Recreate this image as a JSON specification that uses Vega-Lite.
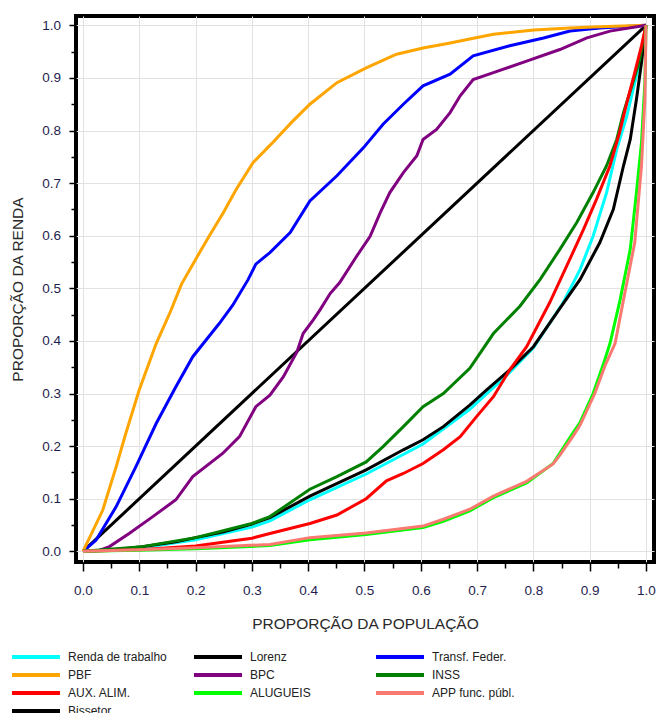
{
  "$schema": "https://vega.github.io/schema/vega-lite/v6.json",
  "width": 578,
  "height": 546,
  "autosize": {"type": "none"},
  "padding": {"left": 76, "top": 16, "right": 3, "bottom": 151},
  "background": "white",
  "datasets": {
    "pts": [
      {"s":"Bissetor","x":0,"y":0},{"s":"Bissetor","x":1,"y":1},

      {"s":"Renda de trabalho","x":0,"y":0},{"s":"Renda de trabalho","x":0.1,"y":0.006},{"s":"Renda de trabalho","x":0.2,"y":0.022},{"s":"Renda de trabalho","x":0.3,"y":0.046},{"s":"Renda de trabalho","x":0.332,"y":0.058},{"s":"Renda de trabalho","x":0.403,"y":0.098},{"s":"Renda de trabalho","x":0.503,"y":0.147},{"s":"Renda de trabalho","x":0.604,"y":0.204},{"s":"Renda de trabalho","x":0.687,"y":0.27},{"s":"Renda de trabalho","x":0.758,"y":0.34},{"s":"Renda de trabalho","x":0.8,"y":0.387},{"s":"Renda de trabalho","x":0.853,"y":0.473},{"s":"Renda de trabalho","x":0.883,"y":0.536},{"s":"Renda de trabalho","x":0.906,"y":0.599},{"s":"Renda de trabalho","x":0.93,"y":0.682},{"s":"Renda de trabalho","x":0.948,"y":0.764},{"s":"Renda de trabalho","x":0.966,"y":0.828},{"s":"Renda de trabalho","x":0.98,"y":0.891},{"s":"Renda de trabalho","x":0.992,"y":0.942},{"s":"Renda de trabalho","x":1,"y":1},

      {"s":"Lorenz","x":0,"y":0},{"s":"Lorenz","x":0.05,"y":0.002},{"s":"Lorenz","x":0.1,"y":0.008},{"s":"Lorenz","x":0.165,"y":0.018},{"s":"Lorenz","x":0.2,"y":0.026},{"s":"Lorenz","x":0.25,"y":0.037},{"s":"Lorenz","x":0.3,"y":0.052},{"s":"Lorenz","x":0.332,"y":0.064},{"s":"Lorenz","x":0.403,"y":0.105},{"s":"Lorenz","x":0.503,"y":0.155},{"s":"Lorenz","x":0.569,"y":0.193},{"s":"Lorenz","x":0.604,"y":0.212},{"s":"Lorenz","x":0.64,"y":0.237},{"s":"Lorenz","x":0.687,"y":0.278},{"s":"Lorenz","x":0.717,"y":0.307},{"s":"Lorenz","x":0.758,"y":0.345},{"s":"Lorenz","x":0.8,"y":0.389},{"s":"Lorenz","x":0.847,"y":0.462},{"s":"Lorenz","x":0.883,"y":0.517},{"s":"Lorenz","x":0.918,"y":0.587},{"s":"Lorenz","x":0.942,"y":0.65},{"s":"Lorenz","x":0.96,"y":0.733},{"s":"Lorenz","x":0.972,"y":0.783},{"s":"Lorenz","x":0.983,"y":0.859},{"s":"Lorenz","x":0.992,"y":0.929},{"s":"Lorenz","x":1,"y":1},

      {"s":"Transf. Feder.","x":0,"y":0},{"s":"Transf. Feder.","x":0.023,"y":0.021},{"s":"Transf. Feder.","x":0.059,"y":0.085},{"s":"Transf. Feder.","x":0.094,"y":0.161},{"s":"Transf. Feder.","x":0.13,"y":0.243},{"s":"Transf. Feder.","x":0.165,"y":0.313},{"s":"Transf. Feder.","x":0.195,"y":0.37},{"s":"Transf. Feder.","x":0.242,"y":0.433},{"s":"Transf. Feder.","x":0.266,"y":0.468},{"s":"Transf. Feder.","x":0.293,"y":0.516},{"s":"Transf. Feder.","x":0.307,"y":0.546},{"s":"Transf. Feder.","x":0.332,"y":0.568},{"s":"Transf. Feder.","x":0.368,"y":0.606},{"s":"Transf. Feder.","x":0.403,"y":0.666},{"s":"Transf. Feder.","x":0.451,"y":0.714},{"s":"Transf. Feder.","x":0.498,"y":0.767},{"s":"Transf. Feder.","x":0.533,"y":0.812},{"s":"Transf. Feder.","x":0.569,"y":0.85},{"s":"Transf. Feder.","x":0.604,"y":0.885},{"s":"Transf. Feder.","x":0.652,"y":0.907},{"s":"Transf. Feder.","x":0.693,"y":0.942},{"s":"Transf. Feder.","x":0.758,"y":0.961},{"s":"Transf. Feder.","x":0.818,"y":0.976},{"s":"Transf. Feder.","x":0.865,"y":0.989},{"s":"Transf. Feder.","x":0.918,"y":0.995},{"s":"Transf. Feder.","x":1,"y":1},

      {"s":"PBF","x":0,"y":0},{"s":"PBF","x":0.035,"y":0.078},{"s":"PBF","x":0.059,"y":0.161},{"s":"PBF","x":0.076,"y":0.224},{"s":"PBF","x":0.1,"y":0.307},{"s":"PBF","x":0.13,"y":0.395},{"s":"PBF","x":0.155,"y":0.455},{"s":"PBF","x":0.175,"y":0.508},{"s":"PBF","x":0.2,"y":0.555},{"s":"PBF","x":0.224,"y":0.599},{"s":"PBF","x":0.25,"y":0.645},{"s":"PBF","x":0.272,"y":0.688},{"s":"PBF","x":0.302,"y":0.739},{"s":"PBF","x":0.335,"y":0.775},{"s":"PBF","x":0.37,"y":0.815},{"s":"PBF","x":0.403,"y":0.85},{"s":"PBF","x":0.451,"y":0.891},{"s":"PBF","x":0.503,"y":0.919},{"s":"PBF","x":0.557,"y":0.945},{"s":"PBF","x":0.604,"y":0.957},{"s":"PBF","x":0.65,"y":0.966},{"s":"PBF","x":0.687,"y":0.974},{"s":"PBF","x":0.729,"y":0.983},{"s":"PBF","x":0.801,"y":0.991},{"s":"PBF","x":0.865,"y":0.995},{"s":"PBF","x":0.906,"y":0.997},{"s":"PBF","x":1,"y":1},

      {"s":"BPC","x":0,"y":0},{"s":"BPC","x":0.03,"y":0.002},{"s":"BPC","x":0.047,"y":0.009},{"s":"BPC","x":0.082,"y":0.034},{"s":"BPC","x":0.124,"y":0.066},{"s":"BPC","x":0.165,"y":0.098},{"s":"BPC","x":0.195,"y":0.142},{"s":"BPC","x":0.248,"y":0.186},{"s":"BPC","x":0.278,"y":0.218},{"s":"BPC","x":0.307,"y":0.275},{"s":"BPC","x":0.332,"y":0.297},{"s":"BPC","x":0.356,"y":0.332},{"s":"BPC","x":0.38,"y":0.379},{"s":"BPC","x":0.391,"y":0.414},{"s":"BPC","x":0.409,"y":0.44},{"s":"BPC","x":0.421,"y":0.459},{"s":"BPC","x":0.439,"y":0.49},{"s":"BPC","x":0.456,"y":0.511},{"s":"BPC","x":0.486,"y":0.561},{"s":"BPC","x":0.51,"y":0.599},{"s":"BPC","x":0.528,"y":0.644},{"s":"BPC","x":0.545,"y":0.682},{"s":"BPC","x":0.569,"y":0.72},{"s":"BPC","x":0.593,"y":0.752},{"s":"BPC","x":0.604,"y":0.783},{"s":"BPC","x":0.628,"y":0.802},{"s":"BPC","x":0.652,"y":0.834},{"s":"BPC","x":0.67,"y":0.866},{"s":"BPC","x":0.693,"y":0.897},{"s":"BPC","x":0.729,"y":0.91},{"s":"BPC","x":0.788,"y":0.932},{"s":"BPC","x":0.847,"y":0.954},{"s":"BPC","x":0.895,"y":0.976},{"s":"BPC","x":0.936,"y":0.989},{"s":"BPC","x":1,"y":1},

      {"s":"INSS","x":0,"y":0},{"s":"INSS","x":0.1,"y":0.008},{"s":"INSS","x":0.2,"y":0.026},{"s":"INSS","x":0.3,"y":0.053},{"s":"INSS","x":0.332,"y":0.066},{"s":"INSS","x":0.403,"y":0.118},{"s":"INSS","x":0.451,"y":0.142},{"s":"INSS","x":0.503,"y":0.17},{"s":"INSS","x":0.533,"y":0.199},{"s":"INSS","x":0.569,"y":0.237},{"s":"INSS","x":0.604,"y":0.275},{"s":"INSS","x":0.64,"y":0.3},{"s":"INSS","x":0.687,"y":0.348},{"s":"INSS","x":0.729,"y":0.414},{"s":"INSS","x":0.776,"y":0.466},{"s":"INSS","x":0.812,"y":0.517},{"s":"INSS","x":0.847,"y":0.574},{"s":"INSS","x":0.877,"y":0.625},{"s":"INSS","x":0.906,"y":0.682},{"s":"INSS","x":0.93,"y":0.733},{"s":"INSS","x":0.948,"y":0.783},{"s":"INSS","x":0.96,"y":0.834},{"s":"INSS","x":0.975,"y":0.885},{"s":"INSS","x":0.989,"y":0.935},{"s":"INSS","x":1,"y":1},

      {"s":"AUX. ALIM.","x":0,"y":0},{"s":"AUX. ALIM.","x":0.1,"y":0.003},{"s":"AUX. ALIM.","x":0.2,"y":0.01},{"s":"AUX. ALIM.","x":0.3,"y":0.025},{"s":"AUX. ALIM.","x":0.332,"y":0.034},{"s":"AUX. ALIM.","x":0.403,"y":0.053},{"s":"AUX. ALIM.","x":0.451,"y":0.069},{"s":"AUX. ALIM.","x":0.503,"y":0.1},{"s":"AUX. ALIM.","x":0.539,"y":0.134},{"s":"AUX. ALIM.","x":0.569,"y":0.148},{"s":"AUX. ALIM.","x":0.604,"y":0.167},{"s":"AUX. ALIM.","x":0.64,"y":0.193},{"s":"AUX. ALIM.","x":0.67,"y":0.218},{"s":"AUX. ALIM.","x":0.699,"y":0.256},{"s":"AUX. ALIM.","x":0.729,"y":0.294},{"s":"AUX. ALIM.","x":0.758,"y":0.345},{"s":"AUX. ALIM.","x":0.788,"y":0.389},{"s":"AUX. ALIM.","x":0.829,"y":0.473},{"s":"AUX. ALIM.","x":0.859,"y":0.542},{"s":"AUX. ALIM.","x":0.889,"y":0.612},{"s":"AUX. ALIM.","x":0.912,"y":0.669},{"s":"AUX. ALIM.","x":0.936,"y":0.733},{"s":"AUX. ALIM.","x":0.953,"y":0.796},{"s":"AUX. ALIM.","x":0.966,"y":0.853},{"s":"AUX. ALIM.","x":0.98,"y":0.91},{"s":"AUX. ALIM.","x":0.992,"y":0.961},{"s":"AUX. ALIM.","x":1,"y":1},

      {"s":"ALUGUEIS","x":0,"y":0},{"s":"ALUGUEIS","x":0.1,"y":0.002},{"s":"ALUGUEIS","x":0.2,"y":0.005},{"s":"ALUGUEIS","x":0.332,"y":0.011},{"s":"ALUGUEIS","x":0.403,"y":0.022},{"s":"ALUGUEIS","x":0.503,"y":0.032},{"s":"ALUGUEIS","x":0.604,"y":0.045},{"s":"ALUGUEIS","x":0.64,"y":0.057},{"s":"ALUGUEIS","x":0.687,"y":0.077},{"s":"ALUGUEIS","x":0.729,"y":0.102},{"s":"ALUGUEIS","x":0.788,"y":0.13},{"s":"ALUGUEIS","x":0.835,"y":0.167},{"s":"ALUGUEIS","x":0.847,"y":0.187},{"s":"ALUGUEIS","x":0.871,"y":0.226},{"s":"ALUGUEIS","x":0.883,"y":0.245},{"s":"ALUGUEIS","x":0.906,"y":0.3},{"s":"ALUGUEIS","x":0.924,"y":0.355},{"s":"ALUGUEIS","x":0.936,"y":0.395},{"s":"ALUGUEIS","x":0.954,"y":0.478},{"s":"ALUGUEIS","x":0.972,"y":0.574},{"s":"ALUGUEIS","x":0.983,"y":0.682},{"s":"ALUGUEIS","x":0.992,"y":0.777},{"s":"ALUGUEIS","x":0.998,"y":0.891},{"s":"ALUGUEIS","x":1,"y":1},

      {"s":"APP func. públ.","x":0,"y":0},{"s":"APP func. públ.","x":0.1,"y":0.003},{"s":"APP func. públ.","x":0.2,"y":0.007},{"s":"APP func. públ.","x":0.332,"y":0.013},{"s":"APP func. públ.","x":0.403,"y":0.026},{"s":"APP func. públ.","x":0.503,"y":0.035},{"s":"APP func. públ.","x":0.604,"y":0.048},{"s":"APP func. públ.","x":0.64,"y":0.061},{"s":"APP func. públ.","x":0.687,"y":0.08},{"s":"APP func. públ.","x":0.729,"y":0.105},{"s":"APP func. públ.","x":0.788,"y":0.133},{"s":"APP func. públ.","x":0.835,"y":0.166},{"s":"APP func. públ.","x":0.847,"y":0.183},{"s":"APP func. públ.","x":0.871,"y":0.22},{"s":"APP func. públ.","x":0.883,"y":0.24},{"s":"APP func. públ.","x":0.909,"y":0.3},{"s":"APP func. públ.","x":0.928,"y":0.355},{"s":"APP func. públ.","x":0.945,"y":0.395},{"s":"APP func. públ.","x":0.96,"y":0.478},{"s":"APP func. públ.","x":0.98,"y":0.587},{"s":"APP func. públ.","x":0.992,"y":0.733},{"s":"APP func. públ.","x":0.998,"y":0.859},{"s":"APP func. públ.","x":1,"y":1}
    ]
  },
  "data": {"name": "pts"},
  "mark": {"type": "line", "strokeWidth": 3, "interpolate": "linear"},
  "encoding": {
    "x": {
      "field": "x", "type": "quantitative",
      "scale": {"domain": [-0.0124, 1.0142], "nice": false, "zero": false},
      "axis": {
        "values": [0,0.05,0.1,0.15,0.2,0.25,0.3,0.35,0.4,0.45,0.5,0.55,0.6,0.65,0.7,0.75,0.8,0.85,0.9,0.95,1],
        "labelExpr": "abs(datum.value*10-round(datum.value*10))<0.01 ? format(datum.value,'.1f') : ''",
        "tickSize": {"condition": {"test": "abs(datum.value*10-round(datum.value*10))<0.01", "value": 9}, "value": 6},
        "gridOpacity": {"condition": {"test": "abs(datum.value*10-round(datum.value*10))<0.01", "value": 1}, "value": 0},
        "labelPadding": 12,
        "title": "PROPORÇÃO DA POPULAÇÃO",
        "titlePadding": 20
      }
    },
    "y": {
      "field": "y", "type": "quantitative",
      "scale": {"domain": [-0.0203, 1.0177], "nice": false, "zero": false},
      "axis": {
        "values": [0,0.05,0.1,0.15,0.2,0.25,0.3,0.35,0.4,0.45,0.5,0.55,0.6,0.65,0.7,0.75,0.8,0.85,0.9,0.95,1],
        "labelExpr": "abs(datum.value*10-round(datum.value*10))<0.01 ? format(datum.value,'.1f') : ''",
        "tickSize": {"condition": {"test": "abs(datum.value*10-round(datum.value*10))<0.01", "value": 7}, "value": 5},
        "gridOpacity": {"condition": {"test": "abs(datum.value*10-round(datum.value*10))<0.01", "value": 1}, "value": 0},
        "labelPadding": 8.5,
        "title": "PROPORÇÃO DA RENDA",
        "titlePadding": 16
      }
    },
    "color": {
      "field": "s", "type": "nominal",
      "scale": {
        "domain": ["Renda de trabalho","Lorenz","Transf. Feder.","PBF","BPC","INSS","AUX. ALIM.","ALUGUEIS","APP func. públ.","Bissetor"],
        "range": ["#00FFFF","#000000","#0000FF","#FFA500","#800080","#008000","#FF0000","#00FF00","#FA7A72","#000000"]
      },
      "legend": {
        "orient": "none",
        "legendX": -64,
        "legendY": 633,
        "direction": "horizontal",
        "columns": 3,
        "gridAlign": "all",
        "columnPadding": 19,
        "rowPadding": 2,
        "padding": 0,
        "title": null,
        "symbolType": "M-4,0H4",
        "symbolSize": 144,
        "symbolStrokeWidth": 4,
        "symbolOffset": 16,
        "labelOffset": 24,
        "labelFont": "Liberation Sans",
        "labelFontSize": 12,
        "labelColor": "#222222",
        "labelLimit": 300
      }
    }
  },
  "config": {
    "view": {"stroke": "#000000", "strokeWidth": 4},
    "axis": {
      "domain": false,
      "grid": true,
      "gridColor": "#e2e2e2",
      "gridWidth": 1,
      "tickColor": "#000000",
      "tickWidth": 1.5,
      "labelFont": "Liberation Sans",
      "labelFontSize": 13.5,
      "labelColor": "#1e1e4e",
      "labelOverlap": false,
      "labelFlush": false,
      "titleFont": "Liberation Sans",
      "titleFontSize": 15.5,
      "titleFontWeight": "normal",
      "titleColor": "#2a2a2a"
    }
  }
}
